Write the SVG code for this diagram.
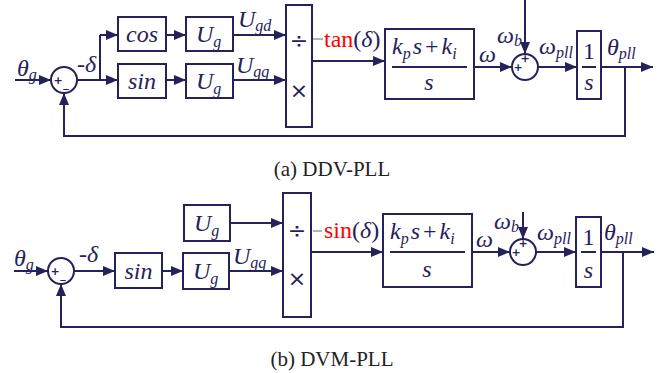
<svg xmlns="http://www.w3.org/2000/svg" width="668" height="373" viewBox="0 0 668 373">
<style>
.ln{stroke:#25215a;stroke-width:2;fill:none}
.bx{stroke:#25215a;stroke-width:2;fill:#fff}
.ar{marker-end:url(#ah)}
.it{font-family:"Liberation Serif","Times New Roman",serif;font-style:italic;fill:#25215a;font-size:24px}
.s{font-size:16px}
.rm{font-family:"Liberation Serif","Times New Roman",serif;fill:#25215a;font-size:24px}
.red{font-family:"Liberation Serif","Times New Roman",serif;fill:#ff0000;font-size:24px}
.nv{fill:#25215a}
.op{font-family:"DejaVu Sans",sans-serif;fill:#25215a;font-size:22px;text-anchor:middle}
.sg{font-family:"DejaVu Sans",sans-serif;fill:#25215a;font-size:11px;font-weight:bold;text-anchor:middle}
.cap{font-family:"Liberation Serif","Times New Roman",serif;fill:#222;font-size:21px;text-anchor:middle}
.gr{stroke:#9a9aa8;stroke-width:1.5}
</style>
<defs>
<marker id="ah" markerUnits="userSpaceOnUse" markerWidth="12" markerHeight="10" refX="12" refY="5" orient="auto">
<path d="M0,0 L12,5 L0,10 z" fill="#25215a"/>
</marker>
</defs>
<rect width="668" height="373" fill="#fff"/>

<g id="connectors">
<line class="ln ar" x1="15" y1="80" x2="51" y2="80"/>
<polyline class="ln" points="77,80 100,80 100,35"/>
<line class="ln ar" x1="100" y1="35" x2="118" y2="35"/>
<line class="ln ar" x1="100" y1="80" x2="118" y2="80"/>
<line class="ln ar" x1="166" y1="35" x2="186" y2="35"/>
<line class="ln ar" x1="166" y1="80" x2="186" y2="80"/>
<line class="ln ar" x1="233" y1="35" x2="286" y2="35"/>
<line class="ln ar" x1="233" y1="80" x2="286" y2="80"/>
<line class="ln ar" x1="312" y1="61" x2="385" y2="61"/>
<line class="ln ar" x1="474" y1="67" x2="512" y2="67"/>
<line class="ln ar" x1="525" y1="0" x2="525" y2="54"/>
<line class="ln ar" x1="538" y1="67" x2="577" y2="67"/>
<line class="ln ar" x1="601" y1="67" x2="653" y2="67"/>
<polyline class="ln ar" points="625,67 625,136 64,136 64,93"/>
<line class="ln ar" x1="14" y1="271" x2="48" y2="271"/>
<line class="ln ar" x1="74" y1="271" x2="115" y2="271"/>
<line class="ln ar" x1="162" y1="271" x2="183" y2="271"/>
<line class="ln ar" x1="229" y1="271" x2="283" y2="271"/>
<line class="ln ar" x1="230" y1="223" x2="283" y2="223"/>
<line class="ln ar" x1="311" y1="252" x2="383" y2="252"/>
<line class="ln ar" x1="472" y1="252" x2="510" y2="252"/>
<line class="ln ar" x1="523" y1="212" x2="523" y2="239"/>
<line class="ln ar" x1="536" y1="252" x2="576" y2="252"/>
<line class="ln ar" x1="601" y1="252" x2="654" y2="252"/>
<polyline class="ln ar" points="623,252 623,327 61,327 61,284"/>
</g>

<g id="sum1a">
<circle class="bx" cx="64" cy="80" r="13"/>
<text class="sg" x="58" y="84">+</text>
<text class="sg" x="66" y="87">_</text>
</g>
<g id="cos">
<rect class="bx" x="118" y="17" width="48" height="34"/>
<text class="it" x="142" y="42" text-anchor="middle">cos</text>
</g>
<g id="sinA">
<rect class="bx" x="118" y="64" width="48" height="34"/>
<text class="it" x="142" y="89" text-anchor="middle">sin</text>
</g>
<g id="ugA1">
<rect class="bx" x="186" y="17" width="47" height="34"/>
<text class="it" x="196" y="42">U<tspan class="s" dy="5">g</tspan></text>
</g>
<g id="ugA2">
<rect class="bx" x="186" y="64" width="47" height="34"/>
<text class="it" x="196" y="89">U<tspan class="s" dy="5">g</tspan></text>
</g>
<g id="divA">
<rect class="bx" x="286" y="5" width="26" height="122"/>
<text class="op" x="299" y="48">÷</text>
<text class="op" x="299" y="98">×</text>
</g>
<g id="piA">
<rect class="bx" x="385" y="29" width="89" height="70"/>
<line class="ln" x1="392" y1="67" x2="467" y2="67"/>
<text class="it" x="392" y="54">k<tspan class="s" dy="5">p</tspan><tspan dy="-5" dx="2">s</tspan><tspan font-style="normal" dx="3">+</tspan><tspan dx="3">k</tspan><tspan class="s" dy="5">i</tspan></text>
<text class="it" x="429" y="90" text-anchor="middle">s</text>
</g>
<g id="sum2a">
<circle class="bx" cx="525" cy="67" r="13"/>
<text class="sg" x="525" y="62">+</text>
<text class="sg" x="518" y="71">+</text>
</g>
<g id="intA">
<rect class="bx" x="577" y="31" width="24" height="68"/>
<text class="rm" x="589" y="59" text-anchor="middle" font-size="25">1</text>
<line class="ln" x1="582" y1="67" x2="596" y2="67" stroke-width="1.5"/>
<text class="it" x="589" y="90" text-anchor="middle">s</text>
</g>
<g id="labelsA">
<text class="it" x="17" y="76">θ<tspan class="s" dy="4">g</tspan></text>
<text class="it" x="77" y="72">-δ</text>
<text class="it" x="238" y="27">U<tspan class="s" dy="4">gd</tspan></text>
<text class="it" x="236" y="73">U<tspan class="s" dy="4">gq</tspan></text>
<line class="gr" x1="313" y1="39" x2="323" y2="39"/>
<text class="red" x="324" y="47">tan<tspan class="nv">(</tspan><tspan class="nv" font-style="italic">δ</tspan><tspan class="nv">)</tspan></text>
<text class="it" x="479" y="62">ω</text>
<text class="it" x="497" y="43">ω<tspan class="s" dy="3">b</tspan></text>
<text class="it" x="539" y="54">ω<tspan class="s" dy="4">pll</tspan></text>
<text class="it" x="607" y="55">θ<tspan class="s" dy="4">pll</tspan></text>
</g>
<text class="cap" x="332" y="176">(a) DDV-PLL</text>

<g id="sum1b">
<circle class="bx" cx="61" cy="271" r="13"/>
<text class="sg" x="55" y="275">+</text>
<text class="sg" x="63" y="278">_</text>
</g>
<g id="sinB">
<rect class="bx" x="115" y="253" width="47" height="35"/>
<text class="it" x="138.5" y="279" text-anchor="middle">sin</text>
</g>
<g id="ugB1">
<rect class="bx" x="184" y="205" width="46" height="36"/>
<text class="it" x="194" y="231">U<tspan class="s" dy="5">g</tspan></text>
</g>
<g id="ugB2">
<rect class="bx" x="183" y="253" width="46" height="36"/>
<text class="it" x="193" y="279">U<tspan class="s" dy="5">g</tspan></text>
</g>
<g id="divB">
<rect class="bx" x="283" y="193" width="28" height="124"/>
<text class="op" x="297" y="238">÷</text>
<text class="op" x="297" y="286">×</text>
</g>
<g id="piB">
<rect class="bx" x="383" y="214" width="89" height="73"/>
<line class="ln" x1="390" y1="252" x2="465" y2="252"/>
<text class="it" x="390" y="239">k<tspan class="s" dy="5">p</tspan><tspan dy="-5" dx="2">s</tspan><tspan font-style="normal" dx="3">+</tspan><tspan dx="3">k</tspan><tspan class="s" dy="5">i</tspan></text>
<text class="it" x="427" y="277" text-anchor="middle">s</text>
</g>
<g id="sum2b">
<circle class="bx" cx="523" cy="252" r="13"/>
<text class="sg" x="523" y="247">+</text>
<text class="sg" x="516" y="256">+</text>
</g>
<g id="intB">
<rect class="bx" x="576" y="217" width="25" height="70"/>
<text class="rm" x="588.5" y="245" text-anchor="middle" font-size="25">1</text>
<line class="ln" x1="581" y1="252" x2="596" y2="252" stroke-width="1.5"/>
<text class="it" x="588.5" y="278" text-anchor="middle">s</text>
</g>
<g id="labelsB">
<text class="it" x="14" y="266">θ<tspan class="s" dy="4">g</tspan></text>
<text class="it" x="79" y="262">-δ</text>
<text class="it" x="233" y="264">U<tspan class="s" dy="4">gq</tspan></text>
<line class="gr" x1="313" y1="231" x2="322" y2="231"/>
<text class="red" x="324" y="238">sin<tspan class="nv">(</tspan><tspan class="nv" font-style="italic">δ</tspan><tspan class="nv">)</tspan></text>
<text class="it" x="476" y="247">ω</text>
<text class="it" x="494" y="229">ω<tspan class="s" dy="3">b</tspan></text>
<text class="it" x="537" y="240">ω<tspan class="s" dy="4">pll</tspan></text>
<text class="it" x="604" y="240">θ<tspan class="s" dy="4">pll</tspan></text>
</g>
<text class="cap" x="332" y="366">(b) DVM-PLL</text>
</svg>
